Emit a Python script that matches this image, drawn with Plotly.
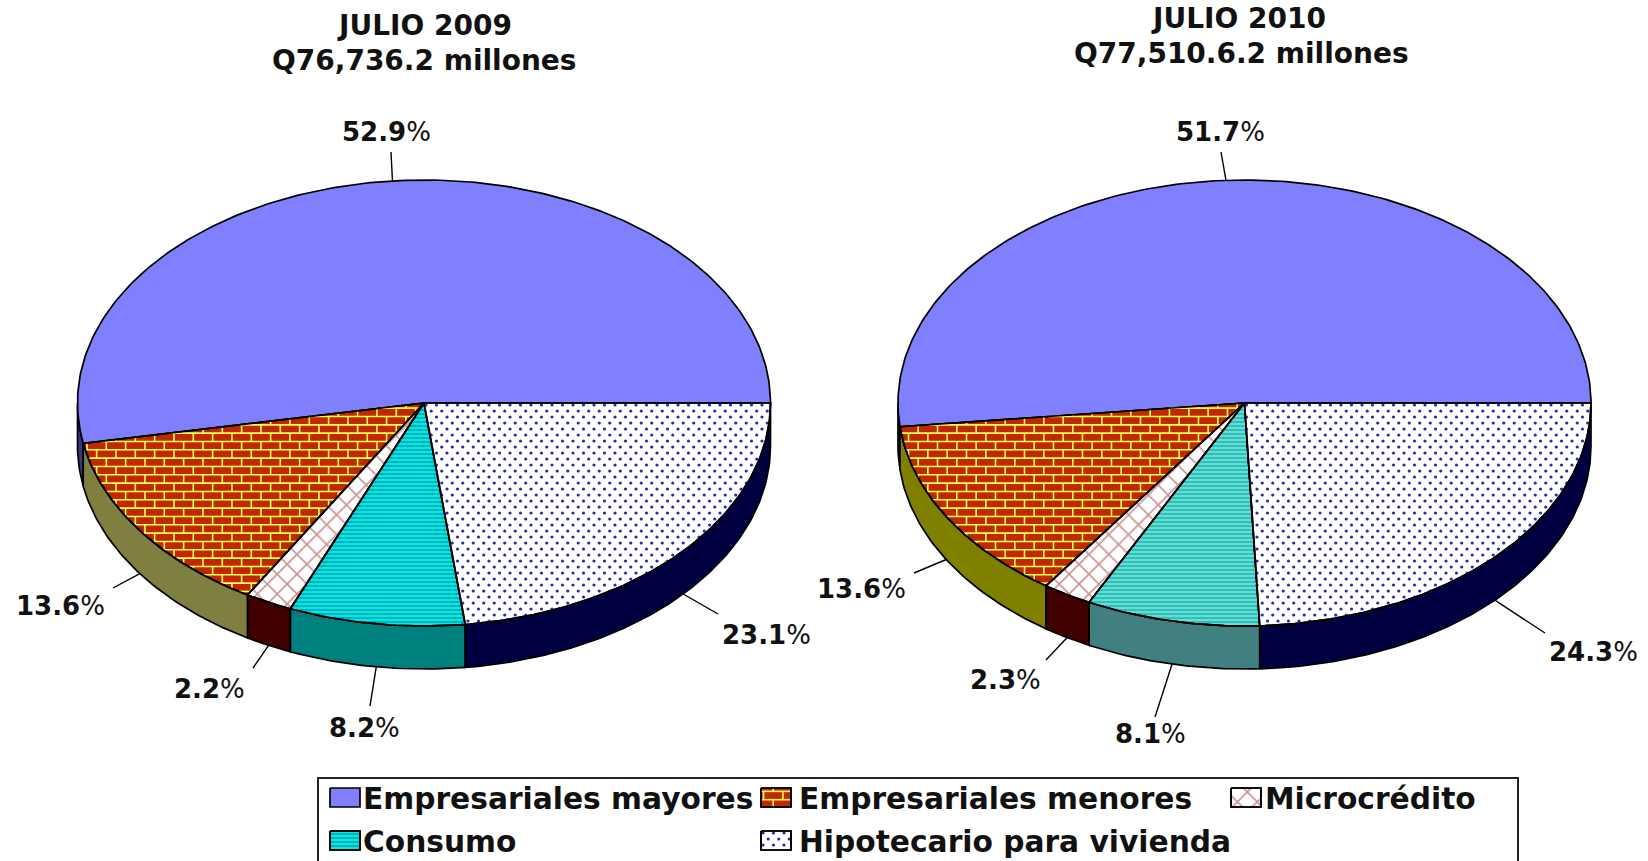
import numpy as np
import plotly.graph_objects as go

CATEGORIES = ["Empresariales mayores", "Empresariales menores", "Microcrédito", "Consumo", "Hipotecario para vivienda"]
VALUES_2009 = [52.9, 13.6, 2.2, 8.2, 23.1]
VALUES_2010 = [51.7, 13.6, 2.3, 8.1, 24.3]
TITLES = [["JULIO 2009", "Q76,736.2 millones"], ["JULIO 2010", "Q77,510.6.2 millones"]]

# geometry / style (pixels)
W, H = 1648, 861
RX, RY, DEPTH = 346.5, 223, 43
CENTERS = [(424, 403), (1244.5, 403)]
TITLE_POS = [[(424, 25), (424, 60)], [(1238, 18), (1241, 53)]]
LABEL_POS = [[(386, 132), (60, 606), (209, 689), (364, 728), (766, 635)],
             [(1220, 132), (861, 589), (1005, 680), (1150, 734), (1593, 652)]]
LEADER_END = [[(391, 152), (113, 588), (253, 668), (370, 706), (718, 614)],
              [(1221, 152), (914, 573), (1046, 660), (1155, 717), (1545, 633)]]
TOP = {0: "#8080ff", 1: "#c02800", 2: "#ffffff", 3: "#00e0e0", 4: "#ffffff"}
SIDE = [["#38387f", "#7f7f40", "#400000", "#007f7f", "#000040"],
        ["#20205a", "#808000", "#400000", "#408080", "#000040"]]
CYAN = [("#00e8e8", "#006f78"), ("#58e4d8", "#1f8488")]
LEG_ROWS = [(0, 330, 361, 798), (1, 761, 797, 798), (2, 1231, 1263, 798), (3, 330, 361, 841), (4, 761, 797, 841)]
FONT = "DejaVu Sans"
OUTLINE = 1.7

fig = go.Figure()


def arc(cx, cy, a0, a1, dy=0):
    n = max(2, int(abs(a1 - a0) * 1.2) + 2)
    t = np.radians(np.linspace(a0, a1, n))
    return cx + RX * np.cos(t), cy - RY * np.sin(t) + dy


def poly(x, y, fill, line="black", pattern=None, width=OUTLINE):
    kw = {"fillpattern": pattern} if pattern else {}
    fig.add_trace(go.Scatter(x=list(x) + [x[0]], y=list(y) + [y[0]], mode="lines", fill="toself", fillcolor=fill,
                             line=dict(color=line, width=width), hoverinfo="skip", showlegend=False, **kw))


def inside(px, py, x, y):
    xj, yj = np.roll(x, 1), np.roll(y, 1)
    c = ((y[None, :] > py[:, None]) != (yj[None, :] > py[:, None]))
    with np.errstate(divide="ignore", invalid="ignore"):
        xi = (xj - x)[None, :] * (py[:, None] - y[None, :]) / (yj - y)[None, :] + x[None, :]
    return (np.sum(c & (px[:, None] < xi), axis=1) % 2) == 1


def bricks(x, y):
    """Yellow mortar lines clipped to the polygon."""
    x, y = np.asarray(x, float), np.asarray(y, float)
    bw, bh = 19.33, 8.33
    sx, sy = [], []
    for r, ry in enumerate(np.arange(np.floor(y.min() / bh) * bh, y.max() + bh, bh)):
        xs = np.arange(x.min(), x.max() + 1, 1.0)
        m = inside(xs, np.full_like(xs, ry), x, y)
        idx = np.flatnonzero(m)
        if len(idx):
            for seg in np.split(idx, np.flatnonzero(np.diff(idx) > 1) + 1):
                sx += [xs[seg[0]], xs[seg[-1]], None]
                sy += [ry, ry, None]
        off = (r % 2) * bw / 2
        vx = np.arange(np.floor(x.min() / bw) * bw + off, x.max() + bw, bw)
        for v in vx:
            ys = np.linspace(ry, ry + bh, 18)
            ok = ys[inside(np.full_like(ys, v), ys, x, y)]
            if len(ok):
                sx += [v, v, None]
                sy += [ok[0], ok[-1], None]
    fig.add_trace(go.Scatter(x=sx, y=sy, mode="lines", line=dict(color="#ffff50", width=1.6),
                             hoverinfo="skip", showlegend=False))


def dots(x, y):
    x, y = np.asarray(x, float), np.asarray(y, float)
    dx, dy = 10.5, 6.0
    px, py = [], []
    for r, ry in enumerate(np.arange(y.min() + 2, y.max() + dy, dy)):
        vx = np.arange(x.min() + 2 + (r % 2) * dx / 2, x.max() + dx, dx)
        m = inside(vx, np.full_like(vx, ry), x, y)
        px += list(vx[m])
        py += [ry] * int(m.sum())
    fig.add_trace(go.Scatter(x=px, y=py, mode="markers", marker=dict(size=3.2, color="#2a2aa8", line=dict(width=0)),
                             hoverinfo="skip", showlegend=False))


def face(i, k, x, y):
    """Draw the top face (or a legend swatch) of category k with its hatch."""
    x, y = np.asarray(x, float), np.asarray(y, float)
    if k == 0:
        poly(x, y, TOP[0])
        return
    if k == 1:
        poly(x, y, TOP[1])
        bricks(x, y)
    elif k == 2:
        poly(x, y, "#ffffff", pattern=dict(shape="x", fgcolor="#982828", bgcolor="#ffffff", size=14, solidity=0.22))
    elif k == 3:
        bg, fg = CYAN[i]
        poly(x, y, bg, pattern=dict(shape="-", fgcolor=fg, bgcolor=bg, size=4, solidity=0.45))
    else:
        poly(x, y, "#ffffff")
        dots(x, y)
    fig.add_trace(go.Scatter(x=list(x) + [x[0]], y=list(y) + [y[0]], mode="lines", line=dict(color="black", width=OUTLINE),
                             hoverinfo="skip", showlegend=False))


def pie(i, values):
    cx, cy = CENTERS[i]
    edges = np.concatenate([[0], np.cumsum(values)]) / sum(values) * 360
    # side walls (only the front half of the disc shows)
    for k in range(len(values)):
        a0, a1 = max(edges[k], 180), min(edges[k + 1], 360)
        if a1 > a0:
            xt, yt = arc(cx, cy, a0, a1)
            xb, yb = arc(cx, cy, a1, a0, DEPTH)
            poly(np.r_[xt, xb], np.r_[yt, yb], SIDE[i][k])
    # top faces
    for k in range(len(values)):
        xa, ya = arc(cx, cy, edges[k], edges[k + 1])
        face(i, k, np.r_[cx, xa], np.r_[cy, ya])
    # leader lines and labels
    for k, v in enumerate(values):
        mid = (edges[k] + edges[k + 1]) / 2
        xa, ya = arc(cx, cy, mid, mid)
        y0 = ya[0] + (DEPTH if 180 < mid < 360 else 0)
        ex, ey = LEADER_END[i][k]
        fig.add_trace(go.Scatter(x=[xa[0], ex], y=[y0, ey], mode="lines", line=dict(color="black", width=1.4),
                                 hoverinfo="skip", showlegend=False))
        lx, ly = LABEL_POS[i][k]
        fig.add_annotation(x=lx, y=ly, text=f"<b>{v:.1f}</b>%", showarrow=False, xanchor="center", yanchor="middle",
                           font=dict(family=FONT, size=26, color="#111111"))
    for txt, (tx, ty) in zip(TITLES[i], TITLE_POS[i]):
        fig.add_annotation(x=tx, y=ty, text=f"<b>{txt}</b>", showarrow=False, xanchor="center", yanchor="middle",
                           font=dict(family=FONT, size=28, color="#111111"))


pie(0, VALUES_2009)
pie(1, VALUES_2010)

# legend box (runs off the bottom of the picture, as in the reference)
fig.add_shape(type="rect", x0=318, x1=1518, y0=778, y1=880, line=dict(color="#222222", width=2), fillcolor="rgba(0,0,0,0)")
for k, sx, tx, sy in LEG_ROWS:
    face(0, k, [sx, sx + 30, sx + 30, sx], [sy - 10, sy - 10, sy + 9, sy + 9])
    fig.add_annotation(x=tx, y=sy, text=f"<b>{CATEGORIES[k]}</b>", showarrow=False, xanchor="left", yanchor="middle",
                       font=dict(family=FONT, size=29.7, color="#111111"))

fig.update_layout(width=W, height=H, margin=dict(l=0, r=0, t=0, b=0), plot_bgcolor="white", paper_bgcolor="white",
                  showlegend=False,
                  xaxis=dict(range=[0, W], visible=False, fixedrange=True),
                  yaxis=dict(range=[H, 0], visible=False, fixedrange=True))
fig.write_html("out.html", config={"displayModeBar": False}, post_script="document.body.style.margin='0';")
